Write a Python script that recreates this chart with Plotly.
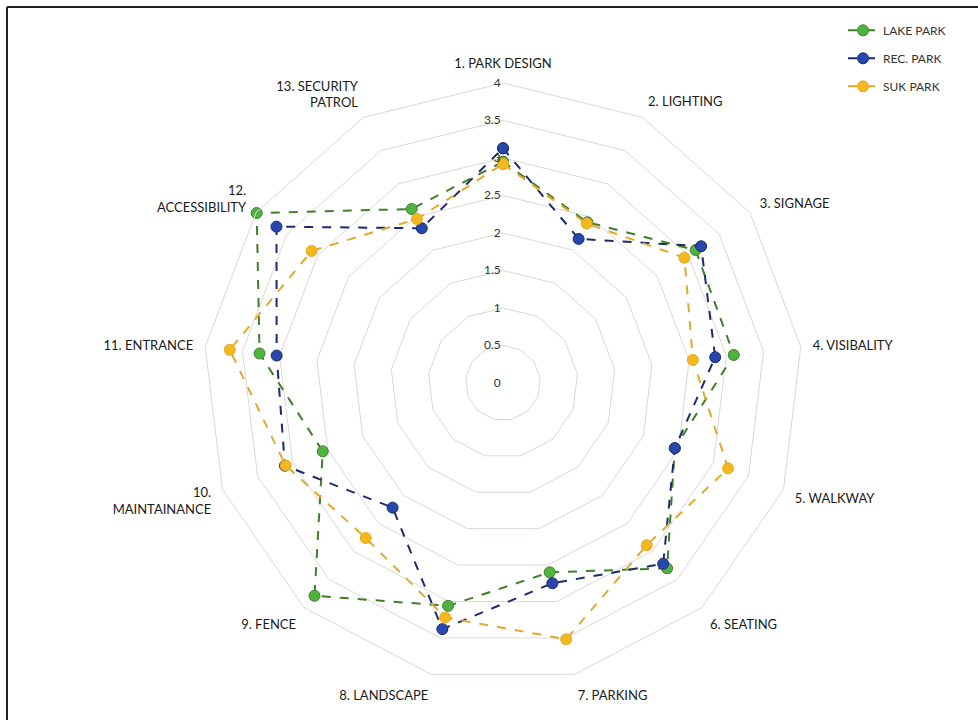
import plotly.graph_objects as go

categories = ["1. PARK DESIGN", "2. LIGHTING", "3. SIGNAGE", "4. VISIBALITY", "5. WALKWAY",
              "6. SEATING", "7. PARKING", "8. LANDSCAPE", "9. FENCE", "10.<br>MAINTAINANCE",
              "11. ENTRANCE", "12.<br>ACCESSIBILITY", "13. SECURITY<br>PATROL"]
lake_park = [2.95, 2.42, 3.12, 3.10, 2.45, 3.30, 2.60, 3.06, 3.79, 2.57, 3.27, 3.99, 2.62]
rec_park = [3.13, 2.17, 3.21, 2.85, 2.45, 3.22, 2.75, 3.38, 2.22, 3.11, 3.04, 3.67, 2.33]
suk_park = [2.92, 2.40, 2.94, 2.55, 3.21, 2.89, 3.52, 3.22, 2.76, 3.10, 3.67, 3.10, 2.47]
radial_ticks = [0, 0.5, 1, 1.5, 2, 2.5, 3, 3.5, 4]

series = [
    ("LAKE PARK", lake_park, "#3f7f2a", "#4fb33f"),
    ("REC. PARK", rec_park, "#1e2a6e", "#2747ad"),
    ("SUK PARK", suk_park, "#e3a92a", "#f4b81c"),
]

fig = go.Figure()
for name, vals, lc, mc in series:
    fig.add_trace(go.Scatterpolar(
        r=vals + vals[:1],
        theta=categories + categories[:1],
        name=name,
        legendgroup=name,
        mode="lines+markers",
        line=dict(color=lc, width=2, dash="dash"),
        marker=dict(color=mc, size=11, line=dict(color=lc, width=1)),
    ))

fig.update_layout(
    width=978, height=720,
    margin=dict(l=0, r=0, t=0, b=0),
    paper_bgcolor="white",
    font=dict(family="Lato, Open Sans, sans-serif", size=13, color="#1a1a1a"),
    polar=dict(
        domain=dict(x=[203/978, 803/978], y=[37/720, 637/720]),
        bgcolor="white",
        gridshape="linear",
        radialaxis=dict(
            range=[0, 4], tickvals=radial_ticks, ticktext=[str(t) for t in radial_ticks],
            angle=90, tickangle=90, side="counterclockwise", showline=False, ticks="",
            gridcolor="#ddd7d3", gridwidth=1,
            tickfont=dict(size=12, color="#333333"),
        ),
        angularaxis=dict(
            direction="clockwise", rotation=90,
            showgrid=False, showline=True, linecolor="#ddd7d3", linewidth=1,
            ticks="outside", ticklen=9, tickcolor="rgba(0,0,0,0)",
            tickfont=dict(size=13, color="#1a1a1a"),
        ),
    ),
    legend=dict(x=0.862, y=0.978, xanchor="left", yanchor="top",
                font=dict(size=12, color="#333333"), bgcolor="rgba(0,0,0,0)",
                itemwidth=30, tracegroupgap=9),
    shapes=[
        dict(type="line", xref="paper", yref="paper", x0=7/978, x1=1.0, y0=1-7/720, y1=1-7/720,
             line=dict(color="#222222", width=2)),
        dict(type="line", xref="paper", yref="paper", x0=7/978, x1=7/978, y0=0, y1=1-7/720,
             line=dict(color="#222222", width=2)),
    ],
)

fig.write_html("out.html")
